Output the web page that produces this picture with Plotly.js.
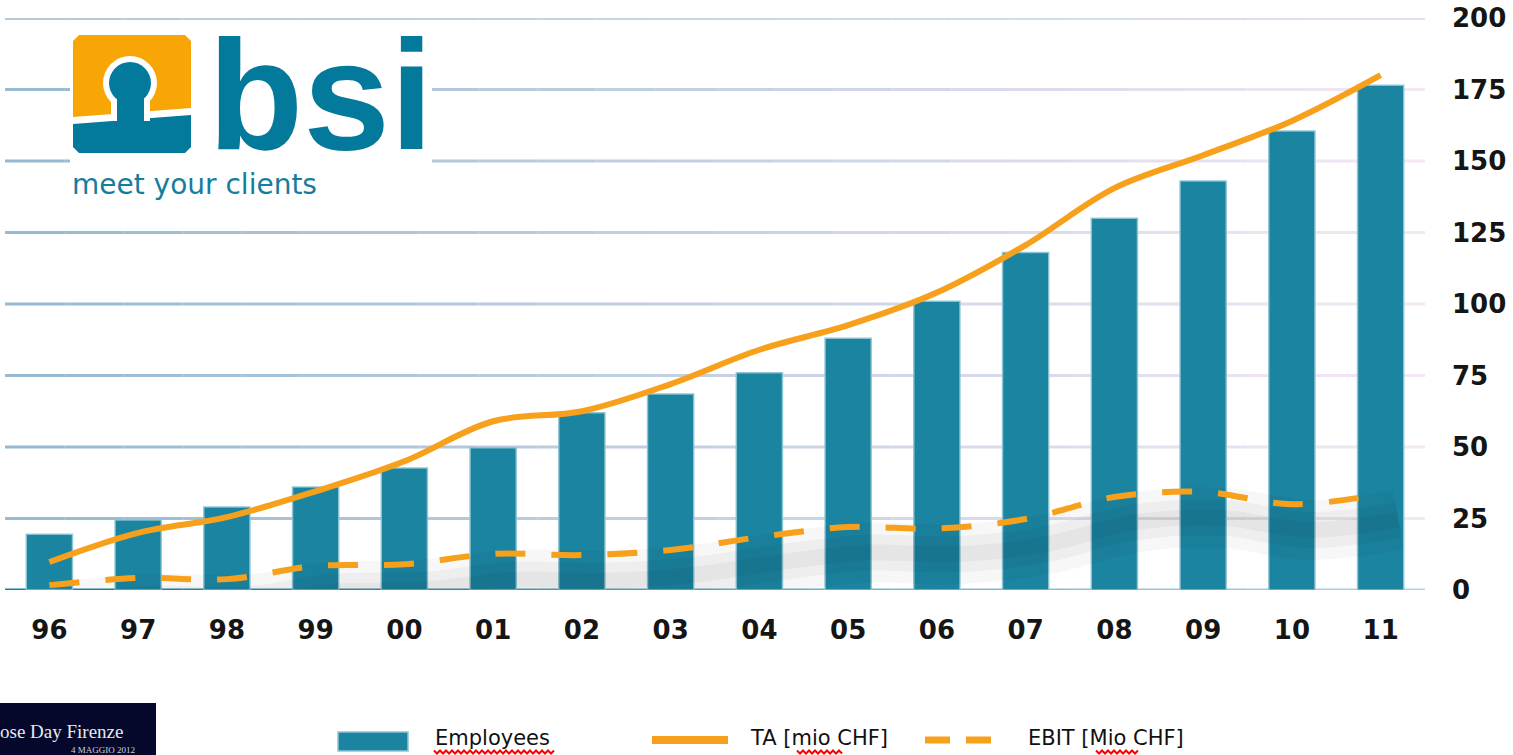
<!DOCTYPE html>
<html>
<head>
<meta charset="utf-8">
<script src="https://cdn.plot.ly/plotly-3.0.1.min.js"></script>
<style>html,body{margin:0;padding:0;background:#fff;}#chart{width:1513px;height:755px;}</style>
</head>
<body>
<div id="chart"></div>
<script>
// ---- data ----
const years = ['96','97','98','99','00','01','02','03','04','05','06','07','08','09','10','11'];
const employees = [19.5,24.5,29,36,42.7,49.7,62,68.5,76,88,101,118,130,143,160.5,176.5];
const taMio = [9.8,20,25.5,34.5,45,59,62.5,72,84,92.6,104,120.6,140.5,152,164,180];
const ebitMio = [1.7,4.2,3.8,8.4,9,12.6,12.2,14,18.5,22,21.5,24.8,32.5,34.3,30,33.5];
const yTicks = [0,25,50,75,100,125,150,175,200];
const legendLabels = ['Employees','TA [mio CHF]','EBIT [Mio CHF]'];

// ---- geometry helpers (pixel -> paper) ----
const W = 1513, H = 755, ML = 5, MR = 88, MT = 18, MB = 165;
const PW = W - ML - MR, PH = H - MT - MB;
const X = px => (px - ML) / PW;
const Y = py => (H - MB - py) / PH;

const shapes = [];
function lerp(a,b,t){return Math.round(a+(b-a)*t);}
function gradLine(yv, c0, c1, width){
  const n = 24;
  for(let i=0;i<n;i++){
    const t = i/(n-1);
    shapes.push({type:'line', layer:'below', xref:'paper', yref:'y',
      x0:i/n, x1:(i+1)/n, y0:yv, y1:yv,
      line:{color:`rgb(${lerp(c0[0],c1[0],t)},${lerp(c0[1],c1[1],t)},${lerp(c0[2],c1[2],t)})`, width:width}});
  }
}
yTicks.forEach(v=>{
  if(v===0) gradLine(0,[22,128,168],[175,212,228],3);
  else if(v===200) gradLine(v,[178,202,220],[222,226,238],4);
  else gradLine(v,[150,186,210],[244,232,244],3);
});

function rect(x0,y0,x1,y1,color,layer){
  shapes.push({type:'rect', layer:layer||'above', xref:'paper', yref:'paper',
    x0:X(x0), x1:X(x1), y0:Y(y1), y1:Y(y0), fillcolor:color, line:{width:0}});
}
function circ(cx,cy,r,color){
  shapes.push({type:'circle', layer:'above', xref:'paper', yref:'paper',
    x0:X(cx-r), x1:X(cx+r), y0:Y(cy+r), y1:Y(cy-r), fillcolor:color, line:{width:0}});
}
function poly(pts,color){
  const d = 'M' + pts.map(p=>X(p[0]).toFixed(5)+','+Y(p[1]).toFixed(5)).join(' L') + ' Z';
  shapes.push({type:'path', layer:'above', xref:'paper', yref:'paper', path:d, fillcolor:color, line:{width:0}});
}
function hline(x0,x1,y,color,width,dash){
  shapes.push({type:'line', layer:'above', xref:'paper', yref:'paper',
    x0:X(x0), x1:X(x1), y0:Y(y), y1:Y(y), line:{color:color,width:width,dash:dash||'solid'}});
}
function zigzag(x0,x1,y){
  let d = '', up = true;
  for(let x=x0;x<=x1;x+=3){
    const yy = up ? y-1.5 : y+1.5; up = !up;
    d += (d===''?'M':' L') + X(x).toFixed(5)+','+Y(yy).toFixed(5);
  }
  shapes.push({type:'path', layer:'above', xref:'paper', yref:'paper', path:d, line:{color:'#ff0000',width:2}});
}

// ---- logo ----
const ORANGE = '#f7a605', TEAL = '#037a9b';
rect(70,26,432,166,'#ffffff','below');
poly([[79,35],[185,35],[191,41],[191,108],[73,117],[73,41]],ORANGE);
poly([[73,124],[191,115],[191,147],[185,153],[79,153],[73,147]],TEAL);
circ(130,83,27,'#ffffff');
rect(111,92,150,121,'#ffffff');
circ(130,83,21,TEAL);
rect(117,92,144,126,TEAL);

// ---- legend graphics ----
shapes.push({type:'rect', layer:'above', xref:'paper', yref:'paper',
  x0:X(338), x1:X(408), y0:Y(751), y1:Y(732), fillcolor:'#1b84a0', line:{color:'#8cc4d4',width:1.5}});
hline(652,728,740,'#f7a01c',8);
hline(925,950,740,'#f7a01c',7);
hline(966,991,740,'#f7a01c',7);
zigzag(434,556,752);
zigzag(797,842,752);
zigzag(1096,1138,752);
// bottom-left photo box
rect(0,703,156,755,'#05082a');

const annotations = [
  {text:'bsi', xref:'paper', yref:'paper', x:X(206), y:Y(95), xanchor:'left', yanchor:'middle',
   showarrow:false, font:{family:'Liberation Sans, Arial, sans-serif', size:156, color:TEAL, weight:700}},
  {text:'meet your clients', xref:'paper', yref:'paper', x:X(70), y:Y(184), xanchor:'left', yanchor:'middle',
   showarrow:false, font:{family:'DejaVu Sans, sans-serif', size:28, color:'#167d9e'}},
  {text:legendLabels[0], xref:'paper', yref:'paper', x:X(433), y:Y(738), xanchor:'left', yanchor:'middle',
   showarrow:false, font:{family:'DejaVu Sans, sans-serif', size:21, color:'#111'}},
  {text:legendLabels[1], xref:'paper', yref:'paper', x:X(748), y:Y(738), xanchor:'left', yanchor:'middle',
   showarrow:false, font:{family:'DejaVu Sans, sans-serif', size:21, color:'#111'}},
  {text:legendLabels[2], xref:'paper', yref:'paper', x:X(1026), y:Y(738), xanchor:'left', yanchor:'middle',
   showarrow:false, font:{family:'DejaVu Sans, sans-serif', size:21, color:'#111'}},
  {text:'ose Day Firenze', xref:'paper', yref:'paper', x:X(-2), y:Y(731), xanchor:'left', yanchor:'middle',
   showarrow:false, font:{family:'Liberation Serif, serif', size:19, color:'#e8e8ee'}},
  {text:'4 MAGGIO 2012', xref:'paper', yref:'paper', x:X(137), y:Y(750), xanchor:'right', yanchor:'middle',
   showarrow:false, font:{family:'Liberation Serif, serif', size:9, color:'#d0d0d8'}}
];

const traces = [
  {type:'bar', x:years, y:employees, name:legendLabels[0], width:0.52,
   marker:{color:'#1b84a0', line:{color:'rgba(140,196,212,0.9)', width:1.5}}, xaxis:'x', yaxis:'y'},
  // soft shadow under EBIT line
  {type:'scatter', mode:'lines', x:years, y:ebitMio, xaxis:'x2', yaxis:'y2', hoverinfo:'skip',
   line:{shape:'spline', smoothing:1, color:'rgba(0,0,0,0.03)', width:60}},
  {type:'scatter', mode:'lines', x:years, y:ebitMio, xaxis:'x2', yaxis:'y2', hoverinfo:'skip',
   line:{shape:'spline', smoothing:1, color:'rgba(0,0,0,0.035)', width:36}},
  {type:'scatter', mode:'lines', x:years, y:ebitMio, xaxis:'x2', yaxis:'y2', hoverinfo:'skip',
   line:{shape:'spline', smoothing:1, color:'rgba(0,0,0,0.035)', width:16}},
  {type:'scatter', mode:'lines', x:years, y:taMio, name:legendLabels[1], xaxis:'x3', yaxis:'y3',
   line:{shape:'spline', smoothing:1, color:'#f7a01c', width:6}},
  {type:'scatter', mode:'lines', x:years, y:ebitMio, name:legendLabels[2], xaxis:'x3', yaxis:'y3',
   line:{shape:'spline', smoothing:1, color:'#f7a01c', width:6, dash:'30px,26px'}}
];

const tickFont = {family:'DejaVu Sans, Verdana, sans-serif', size:26, color:'#151515', weight:700};
const layout = {
  width:W, height:H, margin:{l:ML, r:MR, t:MT, b:MB, pad:0},
  paper_bgcolor:'#ffffff', plot_bgcolor:'rgba(0,0,0,0)', showlegend:false,
  xaxis:{type:'category', range:[-0.5,15.5], showgrid:false, zeroline:false, showline:false,
    ticks:'', tickfont:tickFont, ticklabelstandoff:22, fixedrange:true},
  yaxis:{side:'right', range:[0,200], tickvals:yTicks, showgrid:false, zeroline:false, showline:false,
    ticks:'', tickfont:tickFont, ticklabelstandoff:26, fixedrange:true},
  xaxis2:{type:'category', overlaying:'x', range:[-0.7,15.3], visible:false, fixedrange:true},
  yaxis2:{overlaying:'y', range:[9,209], visible:false, fixedrange:true},
  xaxis3:{type:'category', overlaying:'x', range:[-0.5,15.5], visible:false, fixedrange:true},
  yaxis3:{overlaying:'y', range:[0,200], visible:false, fixedrange:true},
  shapes:shapes, annotations:annotations
};
Plotly.newPlot('chart', traces, layout, {staticPlot:true, displayModeBar:false});
</script>
</body>
</html>
